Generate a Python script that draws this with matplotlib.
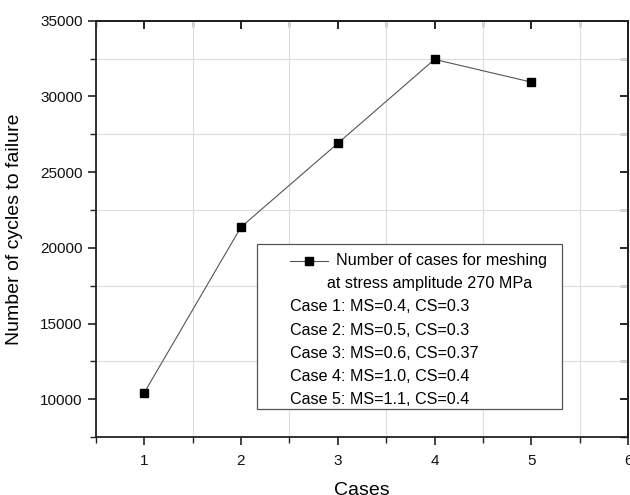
import matplotlib
matplotlib.use("Agg")
import matplotlib.pyplot as plt
from matplotlib.ticker import MultipleLocator
from matplotlib.lines import Line2D
from matplotlib.patches import Rectangle

plt.rcParams['font.family'] = ['Liberation Sans', 'DejaVu Sans']

cases = [1, 2, 3, 4, 5]
cycles = [10420, 21370, 26900, 32450, 30950]
series_label = ["Number of cases for meshing", "at stress amplitude 270 MPa"]
case_labels = ["Case 1: MS=0.4, CS=0.3",
               "Case 2: MS=0.5, CS=0.3",
               "Case 3: MS=0.6, CS=0.37",
               "Case 4: MS=1.0, CS=0.4",
               "Case 5: MS=1.1, CS=0.4"]
xticks = [1, 2, 3, 4, 5, 6]
yticks = [10000, 15000, 20000, 25000, 30000, 35000]

fig = plt.figure(figsize=(6.3, 4.95), dpi=100)
ax = fig.add_axes([0.152, 0.117, 0.845, 0.841])

ax.plot(cases, cycles, color='#555555', lw=0.8, marker='s', ms=6,
        mfc='black', mec='black', zorder=3)

ax.set_xlim(0.5, 6)
ax.set_ylim(7500, 35000)
ax.set_xticks(xticks)
ax.set_yticks(yticks)
ax.xaxis.set_minor_locator(MultipleLocator(0.5))
ax.yaxis.set_minor_locator(MultipleLocator(2500))
ax.grid(which='minor', color='#dddddd', lw=0.8)
ax.grid(which='major', visible=False)
ax.set_axisbelow(True)

for s in ax.spines.values():
    s.set_linewidth(1.3)
    s.set_color('#222222')

ax.tick_params(which='major', direction='out', length=6, width=1.2,
               labelsize=11, colors='#222222', labelcolor='#111111')
ax.tick_params(which='minor', direction='out', length=4, width=1.0, colors='#222222')
ax.tick_params(axis='x', pad=6)

top = ax.secondary_xaxis('top')
top.set_xticks(xticks)
top.xaxis.set_minor_locator(MultipleLocator(0.5))
top.tick_params(which='major', direction='in', length=6, width=1.2, labeltop=False)
top.tick_params(which='minor', direction='in', length=4, width=1.0)
top.spines['top'].set_linewidth(1.3)
right = ax.secondary_yaxis('right')
right.set_yticks(yticks)
right.yaxis.set_minor_locator(MultipleLocator(2500))
right.tick_params(which='major', direction='in', length=6, width=1.2, labelright=False)
right.tick_params(which='minor', direction='in', length=6, width=1.0)
right.spines['right'].set_linewidth(1.3)

ax.set_xlabel("Cases", fontsize=14, labelpad=10)
ax.set_ylabel("Number of cycles to failure", fontsize=14, labelpad=12)

# legend box
W, H = 532.0, 416.0
def fx(px): return (px - 96) / W
def fy(py): return (437 - py) / H

ax.add_patch(Rectangle((fx(257), fy(409)), fx(562) - fx(257), fy(244) - fy(409),
                       transform=ax.transAxes, facecolor='white',
                       edgecolor='#555555', lw=0.9, zorder=5))
ax.add_line(Line2D([fx(290), fx(328)], [fy(261), fy(261)], transform=ax.transAxes,
                   color='#555555', lw=0.8, zorder=6))
ax.add_line(Line2D([fx(309)], [fy(261)], transform=ax.transAxes, marker='s', ms=6,
                   mfc='black', mec='black', zorder=7))
ax.text(fx(336), fy(261), series_label[0], transform=ax.transAxes, fontsize=11.6,
        va='center', ha='left', zorder=7)
ax.text(fx(430), fy(284), series_label[1], transform=ax.transAxes, fontsize=11.6,
        va='center', ha='center', zorder=7)
for i, lab in enumerate(case_labels):
    ax.text(fx(290), fy(307 + 23 * i), lab, transform=ax.transAxes, fontsize=11.6,
            va='center', ha='left', zorder=7)

fig.savefig("out.png", dpi=100)
